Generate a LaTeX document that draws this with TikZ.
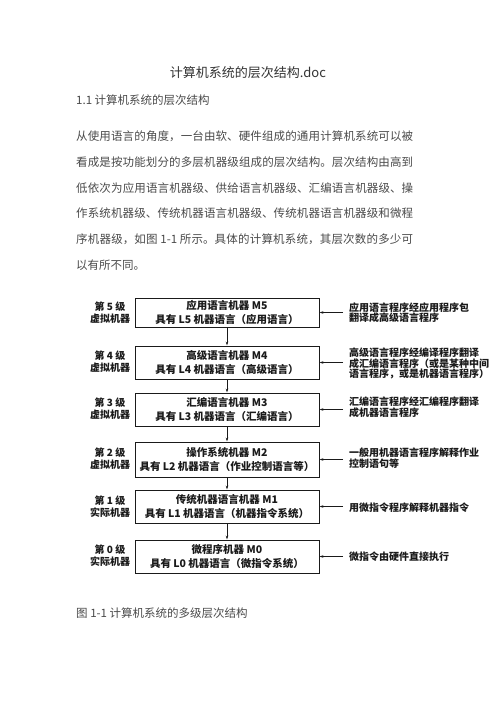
\documentclass[tikz,border=0pt]{standalone}
\usepackage{fontspec}
\newfontfamily\cjk{Noto Sans CJK SC}
\XeTeXlinebreaklocale "zh"
\XeTeXlinebreakskip=0pt plus 2pt minus 0.5pt
\usepackage{tikz}
\usetikzlibrary{arrows.meta,positioning}
\definecolor{ink}{HTML}{1A1A1A}
\definecolor{page}{HTML}{4A4A4A}
\definecolor{head}{HTML}{333333}
\tikzset{
  >={Stealth[length=4pt,width=2.6pt]},
  lvbox/.style={draw=ink,line width=1pt,minimum width=184pt,minimum height=33pt,inner sep=0pt,align=center,font=\cjk\bfseries\fontsize{10.5}{14}\selectfont,text=ink},
  lvlab/.style={align=center,inner sep=0pt,font=\cjk\bfseries\fontsize{10}{12}\selectfont,text=ink},
  note/.style={anchor=west,align=left,inner sep=0pt,font=\cjk\bfseries\fontsize{10}{10.6}\selectfont,text=ink},
  arr/.style={->,draw=ink,line width=0.6pt},
  ptxt/.style={anchor=west,inner sep=0pt,text=page,font=\cjk\fontsize{11.5}{14}\selectfont},
}

\begin{document}
\begin{tikzpicture}[x=1pt,y=-1pt]
\useasboundingbox[fill=white] (0,0) rectangle (496,702);
% page text
\node[inner sep=0pt,text=head,font=\cjk\fontsize{13}{15}\selectfont] (title) at (248,73) {计算机系统的层次结构.doc};
\node[ptxt] (sec) at (76,100) {1.1 计算机系统的层次结构};
\node[ptxt,anchor=north west,text width=337pt,align=justify,font=\cjk\fontsize{11.5}{25.8}\selectfont] (para) at (76,130.5) {从使用语言的角度，一台由软、硬件组成的通用计算机系统可以被\linebreak 看成是按功能划分的多层机器级组成的层次结构。层次结构由高到\linebreak 低依次为应用语言机器级、供给语言机器级、汇编语言机器级、操\linebreak 作系统机器级、传统机器语言机器级、传统机器语言机器级和微程\linebreak 序机器级，如图 1-1 所示。具体的计算机系统，其层次数的多少可\linebreak 以有所不同。};
% levels
\node[lvbox,minimum height=29pt] (m5) at (227,312.5) {应用语言机器 M5\\具有 L5 机器语言（应用语言）};
\node[lvbox] (m4) at (227,362.5) {高级语言机器 M4\\具有 L4 机器语言（高级语言）};
\node[lvbox] (m3) at (227,409.5) {汇编语言机器 M3\\具有 L3 机器语言（汇编语言）};
\node[lvbox,minimum height=35pt] (m2) at (227,459.5) {操作系统机器 M2\\具有 L2 机器语言（作业控制语言等）};
\node[lvbox] (m1) at (227,506.5) {传统机器语言机器 M1\\具有 L1 机器语言（机器指令系统）};
\node[lvbox] (m0) at (227,556.5) {微程序机器 M0\\具有 L0 机器语言（微指令系统）};
\draw[arr] (m5) -- (m4);
\draw[arr] (m4) -- (m3);
\draw[arr] (m3) -- (m2);
\draw[arr] (m2) -- (m1);
\draw[arr] (m1) -- (m0);
% level names
\node[lvlab] (l5) at (110,313) {第 5 级\\虚拟机器};
\node[lvlab] (l4) at (110,362) {第 4 级\\虚拟机器};
\node[lvlab] (l3) at (110,409) {第 3 级\\虚拟机器};
\node[lvlab] (l2) at (110,459) {第 2 级\\虚拟机器};
\node[lvlab] (l1) at (110,507) {第 1 级\\实际机器};
\node[lvlab] (l0) at (110,556) {第 0 级\\实际机器};
% translation notes
\node[note] (n5) at (349,312.5) {应用语言程序经应用程序包\\翻译成高级语言程序};
\node[note] (n4) at (349,363.5) {高级语言程序经编译程序翻译\\成汇编语言程序（或是某种中间\\语言程序，或是机器语言程序）};
\node[note] (n3) at (349,407) {汇编语言程序经汇编程序翻译\\成机器语言程序};
\node[note] (n2) at (349,458) {一般用机器语言程序解释作业\\控制语句等};
\node[note] (n1) at (349,507.5) {用微指令程序解释机器指令};
\node[note] (n0) at (349,557) {微指令由硬件直接执行};
\draw[arr] ([xshift=-6pt]m5.east -| n5.west) -- (m5.east);
\draw[arr] ([xshift=-6pt]m4.east -| n4.west) -- (m4.east);
\draw[arr] ([xshift=-6pt]m3.east -| n3.west) -- (m3.east);
\draw[arr] ([xshift=-6pt]m2.east -| n2.west) -- (m2.east);
\draw[arr] ([xshift=-6pt]m1.east -| n1.west) -- (m1.east);
\draw[arr] ([xshift=-6pt]m0.east -| n0.west) -- (m0.east);
% caption
\node[ptxt] (cap) at (76,613) {图 1-1 计算机系统的多级层次结构};
\end{tikzpicture}
\end{document}
